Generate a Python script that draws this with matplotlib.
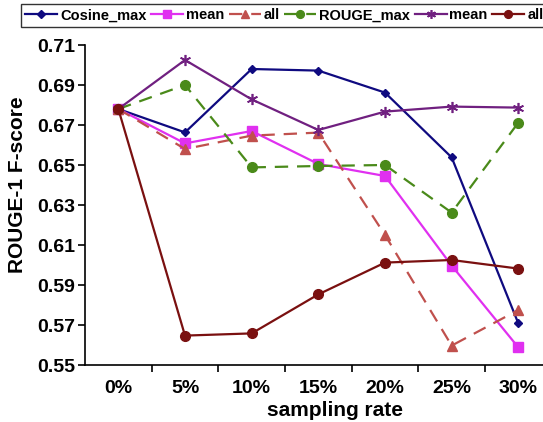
import matplotlib
matplotlib.use("Agg")
import matplotlib.pyplot as plt
import numpy as np

plt.rcParams['font.family'] = ['Liberation Sans', 'DejaVu Sans']
plt.rcParams['font.weight'] = 'bold'

rates = ["0%", "5%", "10%", "15%", "20%", "25%", "30%"]
cosine_max = [0.678, 0.6663, 0.698, 0.6972, 0.6862, 0.6538, 0.5708]
cosine_mean = [0.678, 0.6608, 0.667, 0.6505, 0.6445, 0.5997, 0.5588]
cosine_all = [0.678, 0.658, 0.6647, 0.6662, 0.615, 0.5597, 0.5775]
rouge_max = [0.678, 0.690, 0.6488, 0.6495, 0.650, 0.6262, 0.6712]
rouge_mean = [0.678, 0.7025, 0.6828, 0.6675, 0.6767, 0.6792, 0.6787]
rouge_all = [0.678, 0.5647, 0.5658, 0.5853, 0.6012, 0.6025, 0.5982]

fig = plt.figure(figsize=(5.43, 4.22), dpi=100)
ax = fig.add_axes([85/543, 57/422, 1 - 85/543, 320/422])
x = np.arange(len(rates))

ax.plot(x, cosine_max, color='#0F0A80', lw=1.6, marker='D', ms=4.5, label='Cosine_max')
ax.plot(x, cosine_mean, color='#E030F0', lw=1.6, marker='s', ms=7, label='mean')
ax.plot(x, cosine_all, color='#C0504D', lw=1.6, ls=(0, (6, 4)), marker='^', ms=7, label='all')
ax.plot(x, rouge_max, color='#4A8A1A', lw=1.6, ls=(0, (6, 4)), marker='o', ms=7, label='ROUGE_max')
ax.plot(x, rouge_mean, color='#702080', lw=1.6, marker=(6, 2, 0), ms=8, mew=1.2, label='mean')
ax.plot(x, rouge_all, color='#7A1010', lw=1.6, marker='o', ms=7, label='all')

ax.set_xlim(-0.5, 6.37)
ax.set_ylim(0.55, 0.71)
ax.set_yticks(np.arange(0.55, 0.7101, 0.02))
ax.set_yticklabels(["%.2f" % v for v in np.arange(0.55, 0.7101, 0.02)], fontsize=14, fontweight='bold')
ax.set_xticks(x)
ax.set_xticklabels(rates, fontsize=14, fontweight='bold')
ax.set_xticks(np.arange(0.5, 6.5, 1), minor=True)
ax.tick_params(axis='x', which='major', length=0, pad=11)
ax.tick_params(axis='x', which='minor', length=5, width=1.2, direction='out')
ax.tick_params(axis='y', length=5, width=1.2, direction='out', pad=2)
for s in ['top', 'right']:
    ax.spines[s].set_visible(False)
for s in ['left', 'bottom']:
    ax.spines[s].set_linewidth(1.2)

ax.set_xlabel("sampling rate", fontsize=15, fontweight='bold')
ax.set_ylabel("ROUGE-1 F-score", fontsize=15, fontweight='bold')
ax.xaxis.set_label_coords(0.546, -0.112)
ax.yaxis.set_label_coords(-0.127, 0.5625)

leg = fig.legend(loc='upper left', bbox_to_anchor=(21/543, 1 - 4/422), ncol=6,
                 handlelength=2.2, handletextpad=0.2, columnspacing=0.3,
                 borderpad=0.3, borderaxespad=0, frameon=True, fancybox=False,
                 prop={'weight': 'bold', 'size': 10.5}, markerscale=0.8)
leg.get_frame().set_edgecolor('black')
leg.get_frame().set_linewidth(1.0)

fig.savefig("out.png", dpi=100)
